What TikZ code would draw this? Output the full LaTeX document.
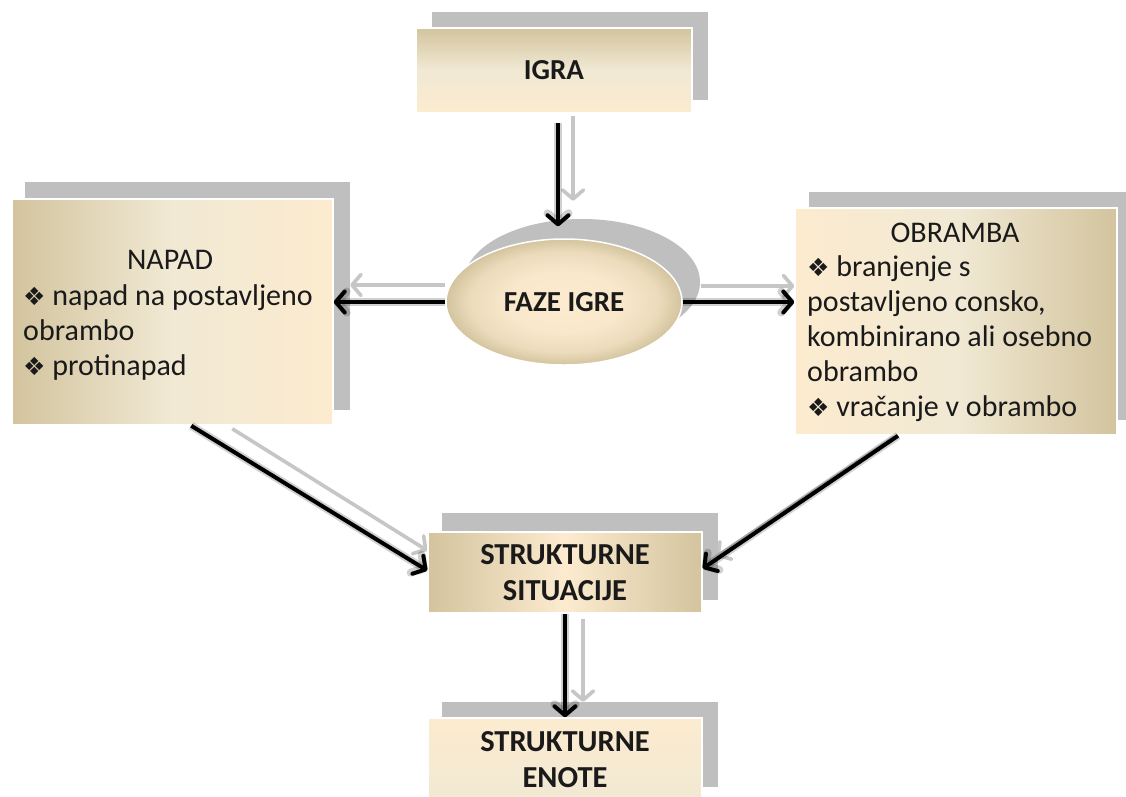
\documentclass[tikz,border=0pt]{standalone}
\usepackage{fontspec}
\setmainfont{Carlito}
\newfontfamily\dvfont{DejaVu Sans}
\usetikzlibrary{arrows.meta,shapes.geometric,calc}
\definecolor{boxtan}{HTML}{D3C49E}
\definecolor{boxcream}{HTML}{FCEBCF}
\definecolor{boxmid}{HTML}{F1E9D4}
\definecolor{shad}{HTML}{BFBFBF}
\definecolor{garrow}{HTML}{C6C6C6}
\definecolor{ink}{HTML}{1A1A1A}
\pgfdeclareradialshading{fazeshade}{\pgfpoint{0bp}{0bp}}{%
  color(0bp)=(boxcream); color(12bp)=(boxcream!92!boxtan);
  color(20bp)=(boxcream!60!boxtan); color(25bp)=(boxtan); color(50bp)=(boxtan)}
\pgfdeclarelayer{back}
\pgfdeclarelayer{bg}
\pgfsetlayers{back,bg,main}
\newcommand\bulx{{\dvfont\fontsize{25}{35}\selectfont\char"2756}}
\begin{document}
\begin{tikzpicture}[x=1pt,y=-1pt,
  shadowbox/.style={rectangle, fill=shad, inner sep=0pt},
  shadowell/.style={ellipse, fill=shad, inner sep=0pt},
  box/.style={rectangle, draw=white, line width=1.5pt, inner sep=0pt, text=ink,
    font=\fontsize{29}{36}\selectfont\bfseries, align=center},
  bigbox/.style={box, font=\fontsize{30.5}{36}\selectfont\bfseries},
  txt/.style={inner sep=0pt, text=ink, font=\fontsize{30}{35}\selectfont},
  blk/.style={line width=4pt, draw=black, -{Straight Barb[length=9pt,width=21pt,round]},
    preaction={draw=black, draw opacity=0.18, line width=8pt}},
  gry/.style={line width=3.6pt, draw=garrow, -{Straight Barb[length=9pt,width=21pt,round]}}
]
\useasboundingbox (0,0) rectangle (1126,796);
\clip (0,0) rectangle (1126,796);
\begin{pgfonlayer}{back}
\fill[white] (0,0) rectangle (1126,796);
\end{pgfonlayer}

% shadow shapes
\node[shadowbox, minimum width=276pt, minimum height=88pt] (igraS) at (570,56) {};
\node[shadowbox, minimum width=325pt, minimum height=228pt] (napadS) at (187.5,296) {};
\node[shadowbox, minimum width=324pt, minimum height=228pt] (obrS) at (971,306) {};
\node[shadowell, minimum width=236pt, minimum height=126pt] (fazeS) at (582,282) {};
\node[shadowbox, minimum width=276pt, minimum height=87pt] (ssS) at (580,556.5) {};
\node[shadowbox, minimum width=276pt, minimum height=85pt] (seS) at (580,744.5) {};

% front boxes
\node[box, minimum width=276pt, minimum height=85pt,
  top color=boxtan, bottom color=boxcream, middle color=boxmid] (igra) at (554,70.5) {IGRA};
\node[box, minimum width=321pt, minimum height=226pt,
  left color=boxtan, right color=boxcream, middle color=boxmid] (napad) at (172.5,312) {};
\node[box, minimum width=322pt, minimum height=227pt,
  left color=boxcream, right color=boxtan, middle color=boxmid] (obr) at (956,321.5) {};
\node[box, shape=ellipse, minimum width=236pt, minimum height=126pt,
  shading=fazeshade] (faze) at (564,302) {FAZE IGRE};
\node[bigbox, minimum width=274pt, minimum height=81pt,
  left color=boxtan, right color=boxtan, middle color=boxcream] (ss) at (565,572.5) {STRUKTURNE\\SITUACIJE};
\node[bigbox, minimum width=274pt, minimum height=84pt,
  top color=boxcream, bottom color=boxmid] (se) at (565,760) {STRUKTURNE\\ENOTE};

% box texts
\node[txt] (napadTitle) at (170,260) {NAPAD};
\node[txt, align=left, anchor=west] (napadT) at (23,332)
  {\bulx\ napad na postavljeno\\obrambo\\\bulx\ protinapad};
\node[txt] (obrTitle) at (955,233) {OBRAMBA};
\node[txt, align=left, anchor=west] (obrT) at (807,339)
  {\bulx\ branjenje s\\postavljeno consko,\\kombinirano ali osebno\\obrambo\\\bulx\ vračanje v obrambo};

% gray arrow shadows (behind everything)
\begin{pgfonlayer}{bg}
\draw[gry] ([xshift=19pt,yshift=-2pt]igra.south) -- ([xshift=19pt,yshift=-87pt]igra.south);
\draw[gry] ([yshift=17pt]faze.west) -- ([yshift=17pt]faze.west -| napadS.east);
\draw[gry] ([xshift=18pt,yshift=16pt]faze.east) -- ([yshift=16pt]faze.east -| obr.west);
\draw[gry] ([xshift=221pt,yshift=-3pt]napad.south west) -- ([yshift=22pt]ss.west);
\draw[gry] ([xshift=-54pt,yshift=4pt]obr.south) -- ([xshift=14pt,yshift=16pt]ss.east);
\draw[gry] ([xshift=18pt,yshift=-5pt]ss.south) -- ([xshift=3pt]seS.north);
\end{pgfonlayer}

% black arrows
\draw[blk] ([xshift=4pt,yshift=-9pt]igra.south) -- ([xshift=-6pt,yshift=12pt]faze.north);
\draw[blk] (faze.west) -- (faze.west -| napad.east);
\draw[blk] (faze.east) -- (faze.east -| obr.west);
\draw[blk] ([xshift=180pt]napad.south west) -- ([yshift=2pt]ss.west);
\draw[blk] ([xshift=-58pt]obr.south) -- ([yshift=4pt]ss.east);
\draw[blk] (ss.south) -- (se.north);
\end{tikzpicture}
\end{document}
